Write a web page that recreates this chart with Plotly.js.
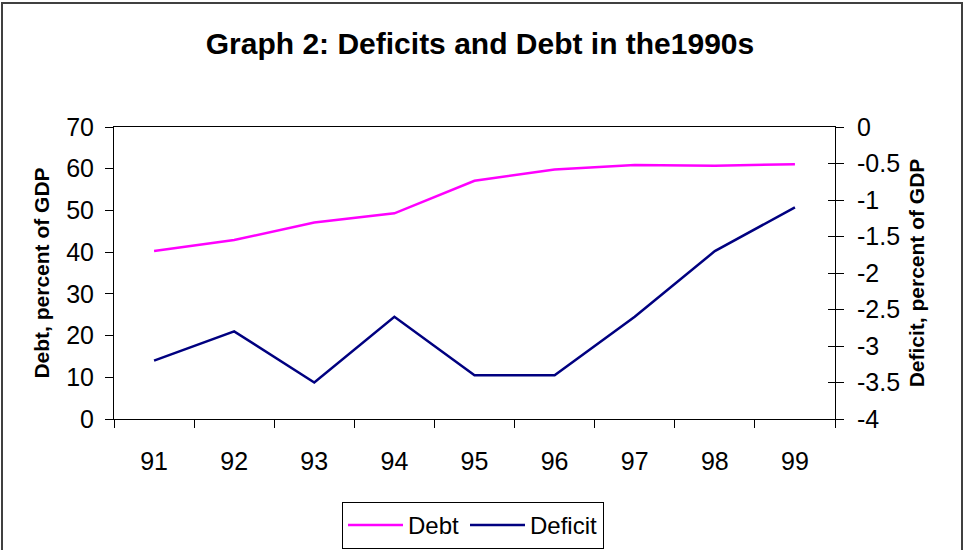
<!DOCTYPE html>
<html>
<head>
<meta charset="utf-8">
<script src="https://cdn.plot.ly/plotly-3.0.1.min.js"></script>
<style>html,body{margin:0;padding:0;background:#fff;}#chart{width:963px;height:550px;}</style>
</head>
<body>
<div id="chart"></div>
<script>
const years = ['91', '92', '93', '94', '95', '96', '97', '98', '99'];
const debt = [40.3, 42.9, 47.1, 49.3, 57.1, 59.8, 60.9, 60.7, 61.1];
const deficit = [-3.2, -2.8, -3.5, -2.6, -3.4, -3.4, -2.6, -1.7, -1.1];
const leftTickVals = [0, 10, 20, 30, 40, 50, 60, 70];
const rightTickVals = [-4, -3.5, -3, -2.5, -2, -1.5, -1, -0.5, 0];
const rightTickText = ['-4', '-3.5', '-3', '-2.5', '-2', '-1.5', '-1', '-0.5', '0'];

const FONT = 'Arial, "Liberation Sans", sans-serif';

const traces = [
  {x: years, y: debt, name: 'Debt', type: 'scatter', mode: 'lines', legendwidth: 52,
   line: {color: '#FF00FF', width: 2.5}, yaxis: 'y'},
  {x: years, y: deficit, name: 'Deficit', type: 'scatter', mode: 'lines',
   line: {color: '#000080', width: 2.5}, yaxis: 'y2'},
  {x: [], y: [], yaxis: 'y3', showlegend: false, hoverinfo: 'skip', type: 'scatter', mode: 'lines'}
];

const L = 114, R = 835, T = 127, B = 419, W = 963, H = 550;
const pw = R - L, ph = B - T;
const px = v => (v - L) / pw;
const py = v => (B - v) / ph;

const layout = {
  width: W, height: H,
  margin: {l: L, r: W - R, t: T, b: H - B, pad: 0, autoexpand: false},
  paper_bgcolor: '#ffffff', plot_bgcolor: '#ffffff',
  font: {family: FONT, color: '#000000', size: 25},
  showlegend: true,
  title: {text: 'Graph 2: Deficits and Debt in the1990s', font: {family: FONT, size: 30, weight: 'bold', color: '#000'},
          xref: 'container', x: 480 / W, xanchor: 'center', yref: 'container', y: 1 - 43 / H, yanchor: 'middle'},
  xaxis: {type: 'category', range: [-0.5, 8.5], tickson: 'boundaries', ticks: 'outside', ticklen: 8,
          tickcolor: '#000', tickwidth: 1, showline: true, linecolor: '#000', linewidth: 1, mirror: true,
          showgrid: false, zeroline: false, tickfont: {size: 25}, ticklabelstandoff: 20, fixedrange: true},
  yaxis: {range: [0, 70], tickvals: leftTickVals, ticks: 'outside', ticklen: 8, tickcolor: '#000',
          showline: true, linecolor: '#000', linewidth: 1, showgrid: false, zeroline: false,
          tickfont: {size: 25}, ticklabelstandoff: 6,
          title: {text: 'Debt, percent of GDP', font: {size: 21, weight: 'bold'}, standoff: 10}},
  yaxis2: {range: [-4, 0], overlaying: 'y', side: 'right', anchor: 'x', tickvals: rightTickVals, ticktext: rightTickText,
           ticks: 'outside', ticklen: 8, tickcolor: '#000', showline: true, linecolor: '#000', linewidth: 1,
           showgrid: false, zeroline: false, tickfont: {size: 25}, ticklabelstandoff: 8,
           title: {text: 'Deficit, percent of GDP', font: {size: 21, weight: 'bold'}, standoff: 10}},
  yaxis3: {range: [-4, 0], overlaying: 'y', side: 'right', anchor: 'x', tickvals: rightTickVals,
           ticks: 'inside', ticklen: 7, tickcolor: '#000', showticklabels: false, showline: false,
           showgrid: false, zeroline: false},
  legend: {orientation: 'h', xref: 'container', yref: 'container', x: 342 / W, y: 1 - 502 / H,
           xanchor: 'left', yanchor: 'top', itemwidth: 55,
           bordercolor: '#000', borderwidth: 1, bgcolor: '#fff', font: {size: 24}},
  shapes: [{type: 'rect', xref: 'paper', yref: 'paper', x0: px(2), x1: px(962), y0: py(620), y1: py(3),
            line: {color: '#404040', width: 2}, fillcolor: 'rgba(0,0,0,0)'}]
};

Plotly.newPlot('chart', traces, layout, {staticPlot: true, displayModeBar: false});
</script>
</body>
</html>
